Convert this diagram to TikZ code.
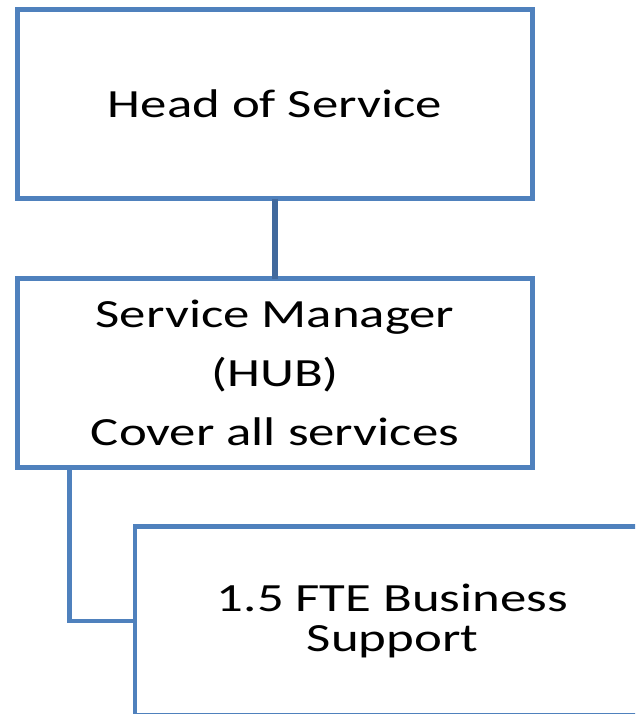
\documentclass[tikz,border=0pt]{standalone}
\usepackage{fontspec}
\setmainfont[FakeStretch=1.32]{Carlito}
\begin{document}
\begin{tikzpicture}[x=1pt,y=-1pt,
  orgbox/.style={draw=boxblue, line width=4.5pt, fill=white, rectangle,
    minimum width=515pt, minimum height=189pt, inner sep=0pt, outer sep=0pt,
    align=center, text=black},
  bigfont/.style={font=\fontsize{40}{59}\selectfont},
  smallspacing/.style={font=\fontsize{40}{40}\selectfont},
  link/.style={line width=4.5pt}
]
\definecolor{boxblue}{HTML}{4F81BD}
\definecolor{linkdark}{HTML}{41699D}
\useasboundingbox (0,0) rectangle (635,714);
\clip (0,0) rectangle (635,714);
\node[orgbox,bigfont] (hos) at (275,104) {Head of Service};
\node[orgbox,bigfont] (sm) at (275,373) {Service Manager\\(HUB)\\Cover all services};
\node[orgbox,smallspacing] (fte) at (392.5,621) {1.5 FTE Business\\Support};
\draw[link,line width=5.5pt,draw=linkdark] (hos.south) -- (sm.north);
\path (sm.south west) ++(52,0) coordinate (smtap);
\draw[link,draw=boxblue] (smtap) |- (fte.west);
\end{tikzpicture}
\end{document}
